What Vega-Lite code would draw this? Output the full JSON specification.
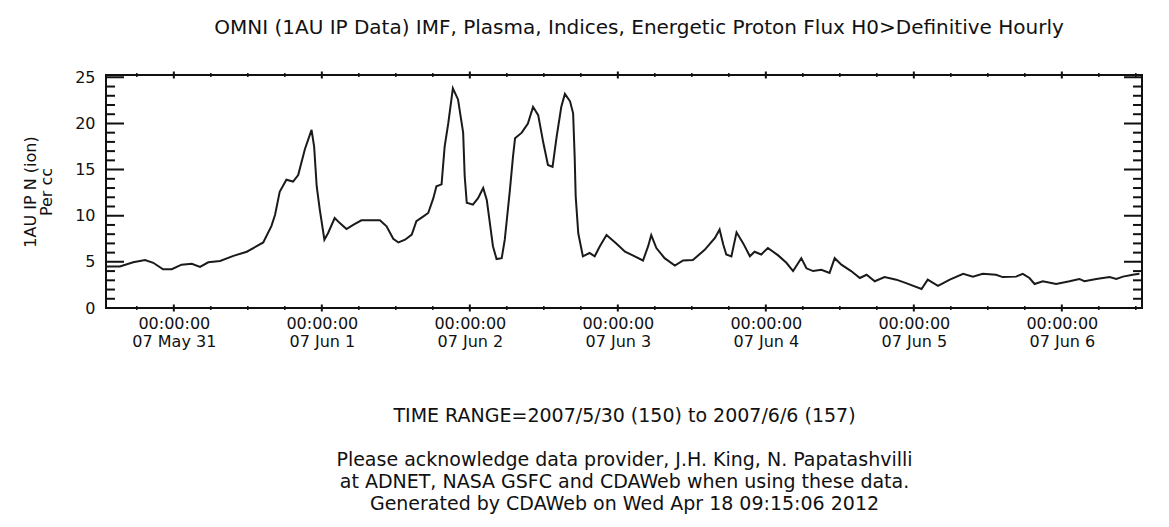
{
  "$schema": "https://vega.github.io/schema/vega-lite/v6.json",
  "width": 1036,
  "height": 233,
  "autosize": {"type": "none"},
  "padding": {"left": 106, "top": 75, "right": 27, "bottom": 219},
  "background": "white",
  "config": {"font": "DejaVu Sans", "view": {"stroke": "#111", "strokeWidth": 2}},
  "title": {"text": "OMNI (1AU IP Data)  IMF, Plasma, Indices, Energetic Proton Flux  H0>Definitive Hourly", "fontSize": 20, "font": "DejaVu Sans", "fontWeight": "normal", "color": "#111", "anchor": "middle", "dx": 15, "offset": 31},
  "datasets": {
    "obs": [
      {"t": "2007-05-30T13:00", "n": 4.5},
      {"t": "2007-05-30T15:15", "n": 4.5},
      {"t": "2007-05-30T17:25", "n": 4.95},
      {"t": "2007-05-30T19:20", "n": 5.2},
      {"t": "2007-05-30T20:40", "n": 4.9},
      {"t": "2007-05-30T22:15", "n": 4.2},
      {"t": "2007-05-30T23:40", "n": 4.2},
      {"t": "2007-05-31T01:15", "n": 4.7},
      {"t": "2007-05-31T02:55", "n": 4.8},
      {"t": "2007-05-31T04:15", "n": 4.45},
      {"t": "2007-05-31T05:35", "n": 4.95},
      {"t": "2007-05-31T07:30", "n": 5.1},
      {"t": "2007-05-31T09:40", "n": 5.65},
      {"t": "2007-05-31T11:50", "n": 6.1},
      {"t": "2007-05-31T14:30", "n": 7.1},
      {"t": "2007-05-31T15:50", "n": 8.9},
      {"t": "2007-05-31T16:25", "n": 10.1},
      {"t": "2007-05-31T17:10", "n": 12.6},
      {"t": "2007-05-31T18:15", "n": 13.9},
      {"t": "2007-05-31T19:20", "n": 13.7},
      {"t": "2007-05-31T20:10", "n": 14.4},
      {"t": "2007-05-31T21:15", "n": 17.2},
      {"t": "2007-05-31T22:20", "n": 19.3},
      {"t": "2007-05-31T22:45", "n": 17.5},
      {"t": "2007-05-31T23:10", "n": 13.2},
      {"t": "2007-05-31T23:40", "n": 10.65},
      {"t": "2007-06-01T00:25", "n": 7.4},
      {"t": "2007-06-01T01:00", "n": 8.1},
      {"t": "2007-06-01T02:05", "n": 9.75},
      {"t": "2007-06-01T02:55", "n": 9.2},
      {"t": "2007-06-01T04:00", "n": 8.55},
      {"t": "2007-06-01T05:05", "n": 9.0},
      {"t": "2007-06-01T06:25", "n": 9.5},
      {"t": "2007-06-01T09:25", "n": 9.5},
      {"t": "2007-06-01T10:30", "n": 8.85},
      {"t": "2007-06-01T11:35", "n": 7.5},
      {"t": "2007-06-01T12:25", "n": 7.1},
      {"t": "2007-06-01T13:30", "n": 7.4},
      {"t": "2007-06-01T14:35", "n": 7.95},
      {"t": "2007-06-01T15:20", "n": 9.4},
      {"t": "2007-06-01T16:25", "n": 9.9},
      {"t": "2007-06-01T17:15", "n": 10.3},
      {"t": "2007-06-01T18:05", "n": 11.9},
      {"t": "2007-06-01T18:35", "n": 13.2},
      {"t": "2007-06-01T19:25", "n": 13.4},
      {"t": "2007-06-01T19:55", "n": 17.5},
      {"t": "2007-06-01T20:30", "n": 20.0},
      {"t": "2007-06-01T21:15", "n": 23.8},
      {"t": "2007-06-01T22:05", "n": 22.6},
      {"t": "2007-06-01T22:55", "n": 19.0},
      {"t": "2007-06-01T23:10", "n": 14.3},
      {"t": "2007-06-01T23:30", "n": 11.4},
      {"t": "2007-06-02T00:30", "n": 11.2},
      {"t": "2007-06-02T01:20", "n": 11.9},
      {"t": "2007-06-02T02:10", "n": 13.0},
      {"t": "2007-06-02T02:45", "n": 11.7},
      {"t": "2007-06-02T03:15", "n": 9.2},
      {"t": "2007-06-02T03:45", "n": 6.7},
      {"t": "2007-06-02T04:20", "n": 5.3},
      {"t": "2007-06-02T05:10", "n": 5.4},
      {"t": "2007-06-02T05:40", "n": 7.4},
      {"t": "2007-06-02T06:30", "n": 12.8},
      {"t": "2007-06-02T07:00", "n": 16.4},
      {"t": "2007-06-02T07:20", "n": 18.4},
      {"t": "2007-06-02T08:25", "n": 19.0},
      {"t": "2007-06-02T09:25", "n": 20.0},
      {"t": "2007-06-02T10:15", "n": 21.8},
      {"t": "2007-06-02T11:05", "n": 20.9},
      {"t": "2007-06-02T11:55", "n": 17.9},
      {"t": "2007-06-02T12:40", "n": 15.5},
      {"t": "2007-06-02T13:25", "n": 15.3},
      {"t": "2007-06-02T14:05", "n": 18.6},
      {"t": "2007-06-02T14:50", "n": 21.8},
      {"t": "2007-06-02T15:25", "n": 23.2},
      {"t": "2007-06-02T16:15", "n": 22.4},
      {"t": "2007-06-02T16:45", "n": 21.1},
      {"t": "2007-06-02T17:00", "n": 16.4},
      {"t": "2007-06-02T17:10", "n": 12.1},
      {"t": "2007-06-02T17:35", "n": 8.1},
      {"t": "2007-06-02T18:20", "n": 5.6},
      {"t": "2007-06-02T19:25", "n": 5.96},
      {"t": "2007-06-02T20:15", "n": 5.6},
      {"t": "2007-06-02T21:05", "n": 6.7},
      {"t": "2007-06-02T22:10", "n": 7.9},
      {"t": "2007-06-02T23:45", "n": 7.0},
      {"t": "2007-06-03T01:10", "n": 6.1},
      {"t": "2007-06-03T02:45", "n": 5.6},
      {"t": "2007-06-03T04:05", "n": 5.15},
      {"t": "2007-06-03T04:55", "n": 6.7},
      {"t": "2007-06-03T05:25", "n": 7.9},
      {"t": "2007-06-03T06:15", "n": 6.5},
      {"t": "2007-06-03T07:35", "n": 5.4},
      {"t": "2007-06-03T09:15", "n": 4.6},
      {"t": "2007-06-03T10:35", "n": 5.15},
      {"t": "2007-06-03T12:10", "n": 5.2},
      {"t": "2007-06-03T14:05", "n": 6.3},
      {"t": "2007-06-03T15:45", "n": 7.6},
      {"t": "2007-06-03T16:30", "n": 8.5},
      {"t": "2007-06-03T17:05", "n": 6.9},
      {"t": "2007-06-03T17:35", "n": 5.8},
      {"t": "2007-06-03T18:25", "n": 5.6},
      {"t": "2007-06-03T19:15", "n": 8.2},
      {"t": "2007-06-03T20:20", "n": 7.0},
      {"t": "2007-06-03T21:25", "n": 5.6},
      {"t": "2007-06-03T22:10", "n": 6.1},
      {"t": "2007-06-03T23:15", "n": 5.8},
      {"t": "2007-06-04T00:20", "n": 6.5},
      {"t": "2007-06-04T02:00", "n": 5.7},
      {"t": "2007-06-04T03:20", "n": 4.9},
      {"t": "2007-06-04T04:25", "n": 4.0},
      {"t": "2007-06-04T05:45", "n": 5.4},
      {"t": "2007-06-04T06:35", "n": 4.3},
      {"t": "2007-06-04T07:40", "n": 4.0},
      {"t": "2007-06-04T09:00", "n": 4.15},
      {"t": "2007-06-04T10:20", "n": 3.8},
      {"t": "2007-06-04T11:10", "n": 5.4},
      {"t": "2007-06-04T12:15", "n": 4.7},
      {"t": "2007-06-04T13:50", "n": 4.0},
      {"t": "2007-06-04T15:15", "n": 3.25},
      {"t": "2007-06-04T16:20", "n": 3.6},
      {"t": "2007-06-04T17:40", "n": 2.9},
      {"t": "2007-06-04T19:15", "n": 3.35},
      {"t": "2007-06-04T21:10", "n": 3.07},
      {"t": "2007-06-04T22:45", "n": 2.7},
      {"t": "2007-06-05T01:15", "n": 2.06},
      {"t": "2007-06-05T02:15", "n": 3.07},
      {"t": "2007-06-05T03:55", "n": 2.4},
      {"t": "2007-06-05T05:50", "n": 3.07},
      {"t": "2007-06-05T08:00", "n": 3.7},
      {"t": "2007-06-05T09:35", "n": 3.4},
      {"t": "2007-06-05T11:10", "n": 3.7},
      {"t": "2007-06-05T13:20", "n": 3.6},
      {"t": "2007-06-05T14:25", "n": 3.35},
      {"t": "2007-06-05T16:35", "n": 3.4},
      {"t": "2007-06-05T17:40", "n": 3.7},
      {"t": "2007-06-05T18:45", "n": 3.25},
      {"t": "2007-06-05T19:35", "n": 2.6},
      {"t": "2007-06-05T20:55", "n": 2.9},
      {"t": "2007-06-05T23:05", "n": 2.6},
      {"t": "2007-06-06T01:15", "n": 2.9},
      {"t": "2007-06-06T02:50", "n": 3.15},
      {"t": "2007-06-06T03:40", "n": 2.9},
      {"t": "2007-06-06T05:35", "n": 3.15},
      {"t": "2007-06-06T07:45", "n": 3.35},
      {"t": "2007-06-06T08:50", "n": 3.15},
      {"t": "2007-06-06T09:55", "n": 3.4},
      {"t": "2007-06-06T11:30", "n": 3.6},
      {"t": "2007-06-06T12:35", "n": 3.7}
    ],
    "xmaj": [
      {"t": "2007-05-31T00:00"}, {"t": "2007-06-01T00:00"}, {"t": "2007-06-02T00:00"}, {"t": "2007-06-03T00:00"},
      {"t": "2007-06-04T00:00"}, {"t": "2007-06-05T00:00"}, {"t": "2007-06-06T00:00"}
    ],
    "xmin": [
      {"t": "2007-05-30T18:00"},
      {"t": "2007-05-31T06:00"}, {"t": "2007-05-31T12:00"}, {"t": "2007-05-31T18:00"},
      {"t": "2007-06-01T06:00"}, {"t": "2007-06-01T12:00"}, {"t": "2007-06-01T18:00"},
      {"t": "2007-06-02T06:00"}, {"t": "2007-06-02T12:00"}, {"t": "2007-06-02T18:00"},
      {"t": "2007-06-03T06:00"}, {"t": "2007-06-03T12:00"}, {"t": "2007-06-03T18:00"},
      {"t": "2007-06-04T06:00"}, {"t": "2007-06-04T12:00"}, {"t": "2007-06-04T18:00"},
      {"t": "2007-06-05T06:00"}, {"t": "2007-06-05T12:00"}, {"t": "2007-06-05T18:00"},
      {"t": "2007-06-06T06:00"}, {"t": "2007-06-06T12:00"}
    ],
    "ymaj": [{"n": 0}, {"n": 5}, {"n": 10}, {"n": 15}, {"n": 20}, {"n": 25}],
    "ymin": [
      {"n": 1}, {"n": 2}, {"n": 3}, {"n": 4}, {"n": 6}, {"n": 7}, {"n": 8}, {"n": 9},
      {"n": 11}, {"n": 12}, {"n": 13}, {"n": 14}, {"n": 16}, {"n": 17}, {"n": 18}, {"n": 19},
      {"n": 21}, {"n": 22}, {"n": 23}, {"n": 24}
    ]
  },
  "layer": [
    {
      "data": {"name": "obs"},
      "mark": {"type": "line", "color": "#1a1a1a", "strokeWidth": 2, "clip": true},
      "encoding": {
        "x": {"field": "t", "type": "temporal",
          "scale": {"domain": [{"year": 2007, "month": 5, "date": 30, "hours": 13}, {"year": 2007, "month": 6, "date": 6, "hours": 13}], "nice": false},
          "axis": {"orient": "bottom", "tickCount": {"interval": "day", "step": 1}, "ticks": false, "domain": false, "grid": false,
            "labelExpr": "['00:00:00', timeFormat(datum.value, '%y %b %e')]",
            "labelFontSize": 16, "labelLineHeight": 18, "labelPadding": 7, "labelColor": "#111", "labelFlush": false, "labelOverlap": false,
            "title": ["TIME RANGE=2007/5/30 (150) to 2007/6/6 (157)", "\u200b", "Please acknowledge data provider, J.H. King, N. Papatashvilli", "at ADNET, NASA GSFC and CDAWeb when using these data.", "Generated by CDAWeb on Wed Apr 18 09:15:06 2012"],
            "titleFontSize": 19, "titleFontWeight": "normal", "titleColor": "#111", "titleLineHeight": 22, "titlePadding": 57}},
        "y": {"field": "n", "type": "quantitative",
          "scale": {"domain": [0, 25.25], "nice": false, "zero": false},
          "axis": {"orient": "left", "values": [0, 5, 10, 15, 20, 25], "ticks": false, "domain": false, "grid": false,
            "labelFontSize": 16, "labelPadding": 11, "labelColor": "#111", "labelFlush": false,
            "title": ["1AU IP N (ion)", "Per cc"], "titleFontSize": 16, "titleFontWeight": "normal", "titleColor": "#111", "titleLineHeight": 16, "titlePadding": 20}}
      }
    },
    {
      "data": {"name": "xmaj"},
      "mark": {"type": "tick", "orient": "vertical", "size": 7, "thickness": 2, "color": "#111", "opacity": 1},
      "encoding": {"x": {"field": "t", "type": "temporal"}, "y": {"datum": 0, "type": "quantitative"}}
    },
    {
      "data": {"name": "xmaj"},
      "mark": {"type": "tick", "orient": "vertical", "size": 7, "thickness": 2, "color": "#111", "opacity": 1},
      "encoding": {"x": {"field": "t", "type": "temporal"}, "y": {"datum": 25.25, "type": "quantitative"}}
    },
    {
      "data": {"name": "xmin"},
      "mark": {"type": "tick", "orient": "vertical", "size": 4, "thickness": 1.5, "color": "#111", "opacity": 1},
      "encoding": {"x": {"field": "t", "type": "temporal"}, "y": {"datum": 0, "type": "quantitative"}}
    },
    {
      "data": {"name": "xmin"},
      "mark": {"type": "tick", "orient": "vertical", "size": 4, "thickness": 1.5, "color": "#111", "opacity": 1},
      "encoding": {"x": {"field": "t", "type": "temporal"}, "y": {"datum": 25.25, "type": "quantitative"}}
    },
    {
      "data": {"name": "ymaj"},
      "mark": {"type": "tick", "orient": "horizontal", "size": 36, "thickness": 2, "color": "#111", "opacity": 1, "clip": true},
      "encoding": {"y": {"field": "n", "type": "quantitative"}, "x": {"datum": {"year": 2007, "month": 5, "date": 30, "hours": 13}, "type": "temporal"}}
    },
    {
      "data": {"name": "ymaj"},
      "mark": {"type": "tick", "orient": "horizontal", "size": 36, "thickness": 2, "color": "#111", "opacity": 1, "clip": true},
      "encoding": {"y": {"field": "n", "type": "quantitative"}, "x": {"datum": {"year": 2007, "month": 6, "date": 6, "hours": 13}, "type": "temporal"}}
    },
    {
      "data": {"name": "ymin"},
      "mark": {"type": "tick", "orient": "horizontal", "size": 18, "thickness": 2, "color": "#111", "opacity": 1, "clip": true},
      "encoding": {"y": {"field": "n", "type": "quantitative"}, "x": {"datum": {"year": 2007, "month": 5, "date": 30, "hours": 13}, "type": "temporal"}}
    },
    {
      "data": {"name": "ymin"},
      "mark": {"type": "tick", "orient": "horizontal", "size": 18, "thickness": 2, "color": "#111", "opacity": 1, "clip": true},
      "encoding": {"y": {"field": "n", "type": "quantitative"}, "x": {"datum": {"year": 2007, "month": 6, "date": 6, "hours": 13}, "type": "temporal"}}
    }
  ]
}
